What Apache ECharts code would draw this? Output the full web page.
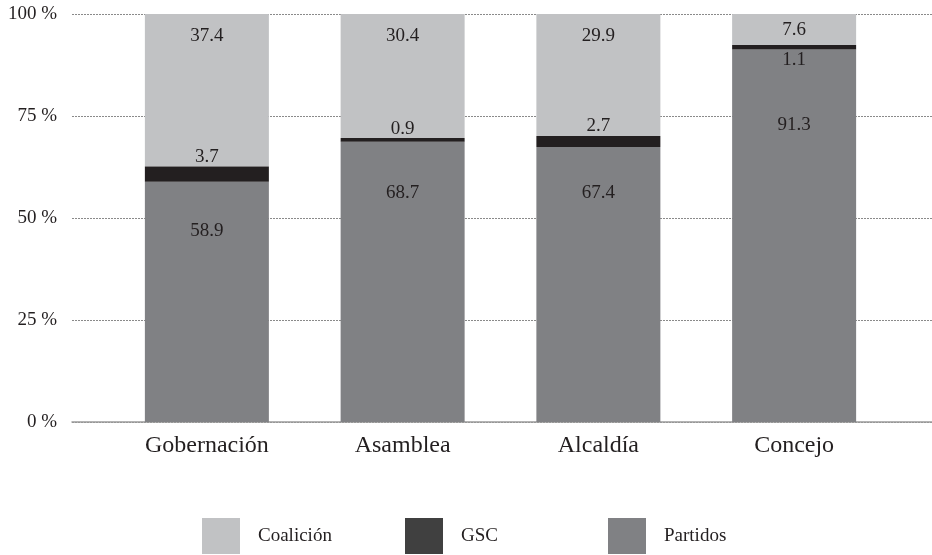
<!DOCTYPE html>
<html>
<head>
<meta charset="utf-8">
<script src="https://cdn.jsdelivr.net/npm/echarts@6/dist/echarts.min.js"></script>
<style>
  html, body { margin: 0; padding: 0; background: #ffffff; }
  #chart { width: 932px; height: 555px; }
</style>
</head>
<body>
<div id="chart"></div>
<script>
// Share of candidacies by type of backing, per office (percent)
const categories = ['Gobernación', 'Asamblea', 'Alcaldía', 'Concejo'];
const partidos  = [58.9, 68.7, 67.4, 91.3];
const gsc       = [3.7, 0.9, 2.7, 1.1];
const coalicion = [37.4, 30.4, 29.9, 7.6];
const yTicks    = [0, 25, 50, 75, 100];

const FONT = 'Liberation Serif';
const INK = '#231f20';
const COLORS = { Coalición: '#c1c2c4', GSC: '#231f20', Partidos: '#808184' };

// label placement inside each segment
const partidosLabelGap  = [40, 42, 37, 66];
const coalicionLabelGap = [13, 13, 13, 7];

const labelBase = { show: true, color: INK, fontFamily: FONT, fontSize: 19 };

function partidosData() {
  return partidos.map((v, i) => ({
    value: v,
    label: Object.assign({}, labelBase, { position: 'insideTop', distance: partidosLabelGap[i] })
  }));
}
function gscData() {
  return gsc.map((v, i) => ({
    value: v,
    label: Object.assign({}, labelBase,
      i === 3 ? { position: 'bottom', distance: 1 } : { position: 'top', distance: 0 })
  }));
}
function coalicionData() {
  return coalicion.map((v, i) => ({
    value: v,
    label: Object.assign({}, labelBase, { position: 'insideTop', distance: coalicionLabelGap[i] })
  }));
}

const chart = echarts.init(document.getElementById('chart'), null, { renderer: 'canvas' });

const legendCommon = {
  top: 518,
  padding: 0,
  itemWidth: 38,
  itemHeight: 36,
  icon: 'rect',
  selectedMode: false,
  textStyle: { fontFamily: FONT, fontSize: 19, color: INK, padding: [0, 0, 0, 13] }
};

chart.setOption({
  animation: false,
  backgroundColor: '#ffffff',
  grid: [
    { left: 72, right: 0, top: 14, height: 408 },
    { left: 109, right: 40, top: 14, height: 408 }
  ],
  xAxis: [
    {
      gridIndex: 0, type: 'value', min: 0, max: 1,
      axisLine: { show: true, lineStyle: { color: '#9a9a9a', width: 1.5 } },
      axisTick: { show: false }, axisLabel: { show: false }, splitLine: { show: false }
    },
    {
      gridIndex: 1, type: 'category', data: categories,
      axisLine: { show: false }, axisTick: { show: false },
      axisLabel: { color: INK, fontFamily: FONT, fontSize: 24, margin: 12 }
    }
  ],
  yAxis: [
    {
      gridIndex: 0, type: 'value', min: yTicks[0], max: yTicks[yTicks.length - 1], interval: 25,
      axisLine: { show: false }, axisTick: { show: false },
      axisLabel: { formatter: '{value} %', color: INK, fontFamily: FONT, fontSize: 19, margin: 15 },
      splitLine: { show: true, lineStyle: { color: '#8a8a8a', type: [2, 1], width: 1 } }
    },
    {
      gridIndex: 1, type: 'value', min: 0, max: 100, show: false
    }
  ],
  legend: [
    Object.assign({}, legendCommon, { left: 202, data: [{ name: 'Coalición' }] }),
    Object.assign({}, legendCommon, { left: 405, data: [{ name: 'GSC', itemStyle: { color: '#404040' } }] }),
    Object.assign({}, legendCommon, { left: 608, data: [{ name: 'Partidos' }] })
  ],
  series: [
    {
      name: 'Partidos', type: 'bar', stack: 'total', xAxisIndex: 1, yAxisIndex: 1,
      barWidth: 124, itemStyle: { color: COLORS.Partidos }, data: partidosData(), z: 3
    },
    {
      name: 'GSC', type: 'bar', stack: 'total', xAxisIndex: 1, yAxisIndex: 1,
      barWidth: 124, itemStyle: { color: COLORS.GSC }, data: gscData(), z: 4
    },
    {
      name: 'Coalición', type: 'bar', stack: 'total', xAxisIndex: 1, yAxisIndex: 1,
      barWidth: 124, itemStyle: { color: COLORS['Coalición'] }, data: coalicionData(), z: 3
    }
  ]
});
</script>
</body>
</html>
